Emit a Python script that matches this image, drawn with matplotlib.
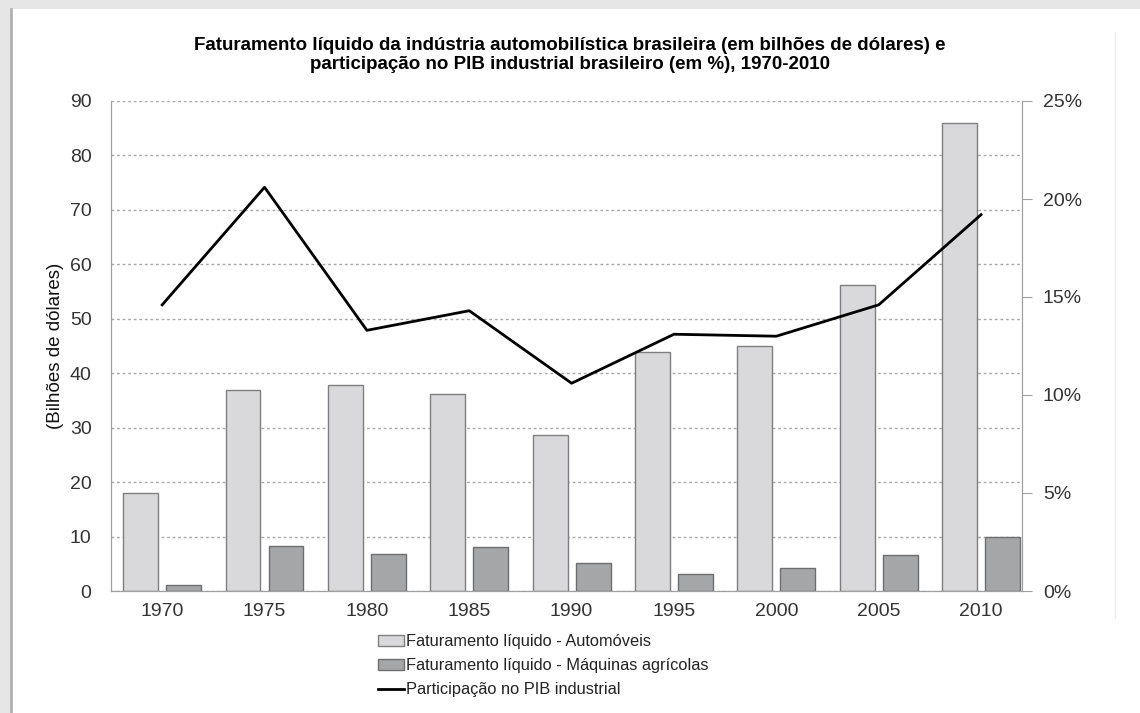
import numpy as np
import matplotlib.pyplot as plt
from matplotlib.patches import Rectangle
from matplotlib.lines import Line2D
from matplotlib.ticker import FuncFormatter

plt.rcParams['font.family'] = ['Liberation Sans', 'DejaVu Sans']

# Data
anos = ['1970', '1975', '1980', '1985', '1990', '1995', '2000', '2005', '2010']
automoveis = [18.0, 36.9, 37.9, 36.2, 28.7, 43.9, 45.0, 56.2, 86.0]
maquinas = [1.1, 8.3, 6.8, 8.1, 5.1, 3.1, 4.3, 6.6, 9.9]
pib_pct = [14.6, 20.6, 13.3, 14.3, 10.6, 13.1, 13.0, 14.6, 19.2]

fig = plt.figure(figsize=(11.4, 7.13), dpi=100)

# page frame with shadow
fig.patches.append(Rectangle((0, 0), 1, 1, transform=fig.transFigure,
                             facecolor='#e6e6e6', edgecolor='none', zorder=-10))
fig.patches.append(Rectangle((11 / 1140, 0), 1, 1 - 9 / 713, transform=fig.transFigure,
                             facecolor='white', edgecolor='none', zorder=-9))
fig.lines.append(Line2D([11 / 1140, 11 / 1140], [0, 1 - 9 / 713], transform=fig.transFigure,
                        color='#b0b0b0', lw=2, zorder=-8))
fig.lines.append(Line2D([1115 / 1140, 1115 / 1140], [1 - 618 / 713, 1 - 32 / 713],
                        transform=fig.transFigure, color='#ececec', lw=1))

ax = fig.add_axes([111 / 1140, 1 - 591 / 713, (1022 - 111) / 1140, (591 - 101) / 713])
ax2 = ax.twinx()

x = np.arange(len(anos))
w = 0.34
g = 0.08
ax.bar(x - w / 2 - g / 2, automoveis, w, color='#d9d9db', edgecolor='#7f7f7f', lw=1,
       label='Faturamento líquido - Automóveis', zorder=2)
ax.bar(x + w / 2 + g / 2, maquinas, w, color='#a5a6a8', edgecolor='#6e6e6e', lw=1,
       label='Faturamento líquido - Máquinas agrícolas', zorder=2)
ax2.plot(x, pib_pct, color='black', lw=2, label='Participação no PIB industrial')

ax.set_xlim(-0.5, 8.4)
ax.set_ylim(0, 90)
ax.set_yticks(range(0, 91, 10))
ax2.set_ylim(0, 25)
ax2.set_yticks(range(0, 26, 5))
ax2.yaxis.set_major_formatter(FuncFormatter(lambda v, p: f'{int(v)}%'))

ax.set_xticks(x)
ax.set_xticklabels(anos)
ax.grid(axis='y', linestyle=(0, (2, 2)), color='#a8a8a8', lw=1, zorder=0)
ax.set_axisbelow(True)

for a in (ax, ax2):
    a.spines['top'].set_visible(False)
    a.spines['left'].set_color('#a0a0a0')
    a.spines['right'].set_color('#a0a0a0')
    a.spines['bottom'].set_color('#a0a0a0')
ax.tick_params(axis='y', length=0, pad=14, labelsize=14, labelcolor='#333333')
ax.tick_params(axis='x', length=0, pad=9, labelsize=14, labelcolor='#333333')
ax2.tick_params(axis='y', length=7, color='#a0a0a0', pad=8, labelsize=14, labelcolor='#333333')

ax.set_ylabel('(Bilhões de dólares)', fontsize=13.5, color='#111111')
ax.yaxis.set_label_coords(-0.052, 0.5)

fig.text(0.5, 1 - 55 / 713, 'Faturamento líquido da indústria automobilística brasileira (em bilhões de dólares) e\n'
         'participação no PIB industrial brasileiro (em %), 1970-2010',
         ha='center', va='center', fontsize=13.5, fontweight='bold', linespacing=1.15)

h1, l1 = ax.get_legend_handles_labels()
h2, l2 = ax2.get_legend_handles_labels()
fig.legend(h1 + h2, l1 + l2, loc='upper left', bbox_to_anchor=(370 / 1140, 1 - 626 / 713),
           frameon=False, fontsize=11.8, handlelength=1.6, handleheight=0.6,
           handletextpad=0.1, labelspacing=0.55, borderpad=0, labelcolor='#222222')

fig.savefig('out.png', dpi=100)
